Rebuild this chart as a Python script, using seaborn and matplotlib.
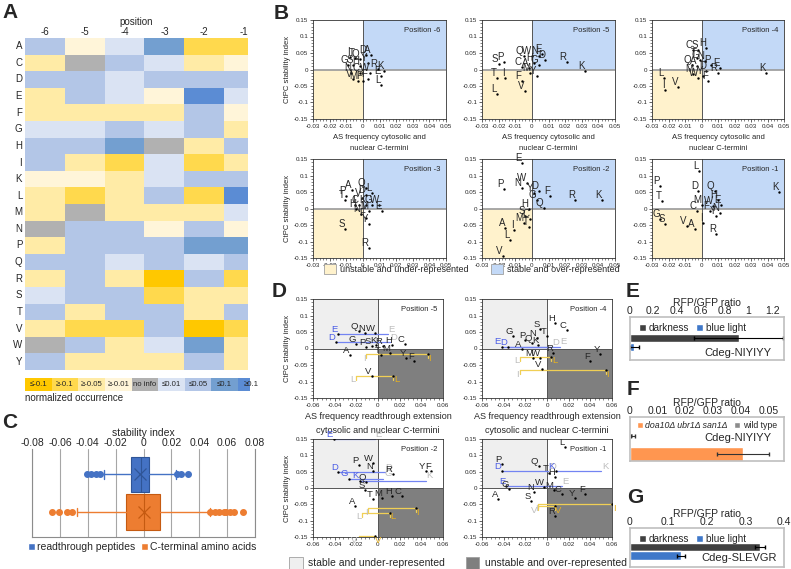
import numpy as np
import pandas as pd
import matplotlib
matplotlib.use('Agg')
import matplotlib.pyplot as plt
import seaborn as sns
from matplotlib.colors import ListedColormap
from matplotlib.patches import Patch, Rectangle
from matplotlib.ticker import MultipleLocator, FuncFormatter

sns.set_style('white')
plt.rcParams['font.family'] = ['Liberation Sans', 'DejaVu Sans']
plt.rcParams['axes.linewidth'] = 0.6

# ---------------- data: panel A (class levels per cell) ----------------
# -4: <=-0.1, -3: >=-0.1, -2: >=-0.05, -1: >=-0.01, 0: no info,
#  1: <=0.01, 2: <=0.05, 3: <=0.1, 4: >=0.1
heat_rows = list("ACDEFGHIKLMNPQRSTVWY")
heat_cols = ["-6", "-5", "-4", "-3", "-2", "-1"]
col_m6 = [2, -2, 2, -2, -2, 1, 2, 2, -1, -2, -2, 0, -2, 2, -2, 1, 2, -2, 0, 2]
col_m5 = [-1, 0, 2, 2, -2, 1, 2, -2, -1, -3, 0, 2, 2, 2, 2, 2, -2, -3, 2, -2]
col_m4 = [1, 2, 1, 1, -2, 2, 3, -3, -2, -2, -2, 2, 2, 1, -2, 2, 2, -3, -2, -2]
col_m3 = [3, 1, 2, -1, -2, 1, 0, 1, 1, 2, -2, -1, 2, 2, -4, -3, 2, 2, 1, -2]
col_m2 = [-3, -2, 2, 4, 2, 2, -2, -3, 2, -3, -2, 2, 3, 1, 2, -2, -2, -4, 3, 2]
col_m1 = [-3, -1, 2, 1, -1, -2, 2, -2, 2, 4, 1, -1, 3, 2, -3, -2, 2, -3, -2, -2]
legend_labels_A = ["≤-0.1", "≥-0.1", "≥-0.05", "≥-0.01", "no info", "≤0.01", "≤0.05", "≤0.1", "≥0.1"]
heat_colors = ['#FFC800', '#FFD94D', '#FFEBA6', '#FFF5D9', '#B1B1B1',
               '#DAE3F3', '#B3C6E7', '#739FD0', '#5B8CD4']

# ---------------- data: panel B ----------------
b_m6_let = list("ITQDAGSHYNCWREKLVMPF")
b_m6_x = [-0.008, -0.005, -0.002, 0.002, 0.005, -0.009, -0.006, -0.002, 0.003, -0.007,
          -0.002, 0.004, 0.009, 0.011, 0.013, 0.011, -0.006, -0.003, 0.000, 0.003]
b_m6_y = [0.038, 0.035, 0.032, 0.045, 0.045, 0.015, 0.015, 0.010, 0.020, -0.010,
          -0.010, -0.010, 0.002, -0.020, -0.005, -0.048, -0.030, -0.035, -0.035, -0.030]
b_m5_let = list("SPCQWNEDHGAMYRKTIFLV")
b_m5_x = [-0.020, -0.017, -0.006, -0.005, 0.000, 0.004, 0.006, 0.008, 0.001, 0.004,
          -0.002, -0.001, 0.003, 0.021, 0.032, -0.021, -0.016, -0.006, -0.021, -0.004]
b_m5_y = [0.018, 0.022, 0.008, 0.040, 0.040, 0.042, 0.048, 0.030, 0.020, 0.015,
          0.005, -0.010, -0.020, 0.022, -0.005, -0.025, -0.025, -0.035, -0.075, -0.065]
b_m4_let = list("HCSTGNPEQADRMWYFKLVI")
b_m4_x = [0.003, -0.005, -0.002, -0.003, -0.001, 0.002, 0.006, 0.011, -0.006, -0.003,
          0.003, 0.010, -0.005, -0.002, 0.001, 0.004, 0.039, -0.023, -0.014, -0.022]
b_m4_y = [0.065, 0.060, 0.060, 0.035, 0.030, 0.025, 0.015, 0.005, 0.015, 0.010,
          -0.005, -0.012, -0.015, -0.025, -0.020, -0.035, -0.010, -0.025, -0.052, -0.062]
b_m3_let = list("APTQLDVICKGWEHMNFYSR")
b_m3_x = [-0.0065, -0.010, -0.0105, 0.0016, 0.0057, 0.0016, -0.0004, -0.0045, -0.0024, 0.0016,
          0.0057, 0.0097, 0.0117, -0.004, 0.0036, -0.0014, 0.0016, 0.0036, -0.0105, 0.0036]
b_m3_y = [0.057, 0.037, 0.027, 0.062, 0.047, 0.042, 0.032, 0.012, 0.012, 0.012,
          0.012, 0.012, -0.008, -0.003, -0.008, -0.018, -0.028, -0.048, -0.063, -0.119]
b_m2_let = list("EWNPYDFGRKQHSCMTAILV")
b_m2_x = [-0.006, -0.003, -0.006, -0.017, 0.001, 0.004, 0.011, 0.003, 0.026, 0.042,
          0.007, -0.002, -0.004, -0.001, -0.005, -0.002, -0.016, -0.011, -0.013, -0.0175]
b_m2_y = [0.137, 0.077, 0.062, 0.058, 0.047, 0.052, 0.037, 0.027, 0.027, 0.027,
          0.002, -0.003, -0.023, -0.033, -0.043, -0.055, -0.058, -0.065, -0.094, -0.144]
b_m1_let = list("LPTDQKHMWECFNYIGSVAR")
b_m1_x = [-0.0016, -0.025, -0.024, -0.002, 0.008, 0.047, 0.010, 0.000, 0.007, 0.012,
          -0.003, 0.005, 0.011, 0.009, 0.001, -0.025, -0.022, -0.009, -0.004, 0.009]
b_m1_y = [0.113, 0.067, 0.024, 0.052, 0.052, 0.049, 0.027, 0.012, 0.007, 0.012,
          -0.008, -0.008, -0.013, -0.023, -0.043, -0.033, -0.048, -0.053, -0.063, -0.078]

# ---------------- data: panel C ----------------
rt_box = dict(q1=-0.0089, med=-0.0017, q3=0.0043, whislo=-0.0286, whishi=0.023, mean=-0.0024)
rt_fliers = [-0.0408, -0.0377, -0.0341, -0.031, 0.0242, 0.0271, 0.0319]
ct_box = dict(q1=-0.0125, med=0.0, q3=0.012, whislo=-0.048, whishi=0.0475, mean=0.0)
ct_fliers = [-0.066, -0.0604, -0.055, -0.0516, 0.048, 0.051, 0.054, 0.058, 0.0595, 0.062, 0.065, 0.0715]

# ---------------- data: panel D ----------------
d_m5_let = list("QNWGPSKRHCATMYFV")
d_m5_x = [-0.018, -0.012, -0.003, -0.020, -0.011, -0.006, -0.0015, 0.0045, 0.013, 0.025,
          -0.026, 0.003, 0.011, 0.026, 0.0335, -0.006]
d_m5_y = [0.052, 0.047, 0.047, 0.015, 0.005, 0.009, 0.012, 0.009, 0.012, 0.015,
          -0.021, -0.021, -0.015, -0.028, -0.038, -0.082]
d_m5_shift_let = ["E", "D", "I", "L"]
d_m5_shift_from = [0.009, 0.011, -0.011, -0.020]
d_m5_shift_to = [-0.037, -0.039, 0.046, 0.014]
d_m5_shift_y = [0.044, 0.019, -0.018, -0.082]
d_m5_shift_kind = ["blue", "blue", "gold", "gold"]

d_m4_let = list("HCSTNPGQKAMWRYFV")
d_m4_x = [0.0074, 0.018, -0.0065, 0.000, -0.0095, -0.020, -0.031, -0.014, -0.008, -0.023,
          -0.0127, -0.0065, 0.0058, 0.049, 0.040, -0.005]
d_m4_y = [0.078, 0.055, 0.058, 0.037, 0.032, 0.027, 0.037, 0.017, 0.012, -0.003,
          -0.028, -0.028, -0.013, -0.018, -0.038, -0.062]
d_m4_shift_let = ["E", "D", "L", "I"]
d_m4_shift_from = [0.012, 0.004, -0.025, -0.025]
d_m4_shift_to = [-0.042, -0.036, 0.004, 0.054]
d_m4_shift_y = [0.006, 0.004, -0.025, -0.065]
d_m4_shift_kind = ["blue", "blue", "gold", "gold"]

d_m2_let = list("WPNRYFQSTMHCA")
d_m2_x = [-0.0046, -0.018, -0.0046, 0.0137, 0.044, 0.049, -0.011, -0.012, -0.005, 0.004,
          0.013, 0.022, -0.021]
d_m2_y = [0.078, 0.071, 0.051, 0.044, 0.051, 0.051, 0.017, -0.005, -0.033, -0.030,
          -0.023, -0.023, -0.054]
d_m2_shift_let = ["E", "D", "G", "K", "I", "L", "V"]
d_m2_shift_from = [-0.003, 0.006, 0.005, 0.044, -0.009, -0.015, -0.018]
d_m2_shift_to = [-0.041, -0.0366, -0.027, -0.017, 0.035, 0.011, -0.003]
d_m2_shift_y = [0.149, 0.049, 0.028, 0.022, -0.061, -0.076, -0.147]
d_m2_shift_kind = ["blue", "blue", "blue", "blue", "gold", "gold", "gold"]

d_m1_let = list("LPQTHWMCNYFSRGA")
d_m1_x = [0.0167, -0.042, -0.0076, 0.0015, 0.0076, -0.003, 0.006, 0.0136, -0.012, 0.026,
          0.035, -0.015, 0.0076, -0.035, -0.045]
d_m1_y = [0.125, 0.075, 0.066, 0.047, 0.033, 0.003, -0.007, -0.017, -0.012, -0.032,
          -0.017, -0.041, -0.086, -0.002, -0.035]
d_m1_shift_let = ["D", "K", "E", "I", "V"]
d_m1_shift_from = [0.001, 0.050, 0.0136, -0.008, -0.008]
d_m1_shift_to = [-0.042, 0.008, -0.038, 0.060, 0.007]
d_m1_shift_y = [0.051, 0.051, 0.005, -0.050, -0.055]
d_m1_shift_kind = ["blue", "blue", "blue", "gold", "gold"]

# ---------------- data: panels E, F, G ----------------
e_labels = ["darkness", "blue light"]
e_values = [0.918, 0.042]
e_err = [0.375, 0.034]
f_labels = ["wild type", "doa10Δ ubr1Δ san1Δ"]
f_values = [0.0012, 0.0407]
f_err = [0.0008, 0.0093]
g_labels = ["darkness", "blue light"]
g_values = [0.337, 0.134]
g_err = [0.013, 0.010]

# ======================================================================
W, H = 791, 569
fig = plt.figure(figsize=(W / 100, H / 100), dpi=100)


def add_ax(x0, y0, x1, y1):
    return fig.add_axes([x0 / W, 1 - y1 / H, (x1 - x0) / W, (y1 - y0) / H])


def fmt(v, p):
    s = '%g' % round(v, 4)
    return '0' if s in ('-0', '0') else s


def panel_label(ch, x, y):
    fig.text(x / W, 1 - y / H, ch, fontsize=15, fontweight='bold', va='baseline', ha='left')


# ---------------- Panel A ----------------
heat_df = pd.DataFrame({c: v for c, v in zip(heat_cols, [col_m6, col_m5, col_m4, col_m3, col_m2, col_m1])},
                       index=heat_rows)
axA = add_ax(25, 38, 248, 370)
sns.heatmap(heat_df, cmap=ListedColormap(heat_colors), vmin=-4.5, vmax=4.5, cbar=False,
            ax=axA, linewidths=0)
axA.set_xlim(0, 5.6)
axA.xaxis.tick_top()
axA.xaxis.set_label_position('top')
axA.set_xlabel('position', fontsize=7, labelpad=1)
axA.set_ylabel('')
axA.tick_params(length=0, labelsize=7, pad=2)
axA.tick_params(axis='x', pad=1)
plt.setp(axA.get_yticklabels(), rotation=0)
plt.setp(axA.get_xticklabels(), rotation=0)

axAl = add_ax(25, 378, 250, 391)
axAl.set_xlim(0, 8.45)
axAl.set_ylim(0, 1)
axAl.axis('off')
for i, (lab, col) in enumerate(zip(legend_labels_A, heat_colors)):
    axAl.add_patch(Rectangle((i, 0), 1, 1, color=col, lw=0))
    axAl.text(i + 0.5, 0.48, lab, ha='center', va='center', fontsize=5.6)
fig.text(25 / W, 1 - 398 / H, 'normalized occurrence', fontsize=7, va='center')
panel_label('A', 2, 18)

# ---------------- Panel B ----------------
YEL = '#FFF2CC'
BLU = '#C3D9F7'


def style_sc(ax, xticks, xminor):
    ax.set_xticks(xticks)
    ax.set_yticks([-0.15, -0.1, -0.05, 0, 0.05, 0.1, 0.15])
    ax.xaxis.set_minor_locator(MultipleLocator(xminor))
    ax.yaxis.set_minor_locator(MultipleLocator(0.01))
    ax.xaxis.set_major_formatter(FuncFormatter(fmt))
    ax.yaxis.set_major_formatter(FuncFormatter(fmt))
    ax.tick_params(which='major', length=2.5, width=0.5, labelsize=4.5, pad=1,
                   bottom=True, left=True, direction='out')
    ax.tick_params(which='minor', length=1.3, width=0.4, bottom=True, left=True, direction='out')
    for s in ax.spines.values():
        s.set_color('#333333')
        s.set_linewidth(0.6)


def draw_b(ax, let, xs, ys, pos, ylab, xlab):
    ax.set_xlim(-0.03, 0.05)
    ax.set_ylim(-0.15, 0.15)
    ax.fill_between([-0.03, 0], [-0.15, -0.15], [0, 0], color=YEL, lw=0, zorder=0)
    ax.fill_between([0, 0.05], [0, 0], [0.15, 0.15], color=BLU, lw=0, zorder=0)
    ax.axhline(0, color='#9A9A9A', lw=1.2, zorder=1)
    ax.axvline(0, color='#555555', lw=0.7, zorder=1)
    sns.scatterplot(x=xs, y=ys, ax=ax, s=3, color='black', linewidth=0, zorder=3)
    for l, x, y in zip(let, xs, ys):
        ax.annotate(l, (x, y), xytext=(-0.2, 0.0), textcoords='offset points',
                    ha='right', va='bottom', fontsize=7, zorder=4)
    ax.text(0.96, 0.93, 'Position ' + pos, transform=ax.transAxes, ha='right', va='top', fontsize=5.5)
    style_sc(ax, [-0.03, -0.02, -0.01, 0, 0.01, 0.02, 0.03, 0.04, 0.05], 0.002)
    if ylab:
        ax.set_ylabel('CtPC stability index', fontsize=5.5, labelpad=2)
    if xlab:
        ax.set_xlabel('AS frequency cytosolic and\nnuclear C-termini', fontsize=5.5, labelpad=4,
                      linespacing=1.8)


bcols = [(313, 446), (482, 615), (652, 784)]
brows = [(20, 119), (159, 258)]
bdata = [(b_m6_let, b_m6_x, b_m6_y, '-6'), (b_m5_let, b_m5_x, b_m5_y, '-5'),
         (b_m4_let, b_m4_x, b_m4_y, '-4'), (b_m3_let, b_m3_x, b_m3_y, '-3'),
         (b_m2_let, b_m2_x, b_m2_y, '-2'), (b_m1_let, b_m1_x, b_m1_y, '-1')]
for i, (let, xs, ys, pos) in enumerate(bdata):
    r, c = divmod(i, 3)
    ax = add_ax(bcols[c][0], brows[r][0], bcols[c][1], brows[r][1])
    draw_b(ax, let, xs, ys, pos, c == 0, r == 0)

fig.legend([Patch(facecolor=YEL, edgecolor='#A0A0A0', lw=0.6), Patch(facecolor=BLU, edgecolor='#A0A0A0', lw=0.6)],
           ['unstable and under-represented', 'stable and over-represented'],
           loc='center', bbox_to_anchor=(472 / W, 1 - 269 / H), ncol=2, frameon=False, fontsize=6.5,
           handlelength=1.3, handleheight=1.3, handletextpad=0.5, columnspacing=2.5)
panel_label('B', 274, 19)

# ---------------- Panel C ----------------
axC = add_ax(32, 449, 255, 537)
BLUE_C = '#4472C4'
ORANGE_C = '#ED7D31'
stats = []
for b, fl, lab in [(rt_box, rt_fliers, 'rt'), (ct_box, ct_fliers, 'ct')]:
    d = dict(b)
    d['fliers'] = fl
    d['label'] = lab
    stats.append(d)
try:
    bp = axC.bxp(stats, positions=[0, 1], widths=0.95, orientation='horizontal', patch_artist=True,
                 showmeans=True, capwidths=0.22)
except TypeError:
    bp = axC.bxp(stats, positions=[0, 1], widths=0.95, vert=False, patch_artist=True,
                 showmeans=True)
for i, col in enumerate([BLUE_C, ORANGE_C]):
    edge = '#2F5597' if i == 0 else '#C55A11'
    bp['boxes'][i].set(facecolor=col, edgecolor=edge, lw=0.8)
    bp['medians'][i].set(color=edge, lw=0.8)
    for w in bp['whiskers'][2 * i:2 * i + 2]:
        w.set(color=col, lw=1.0)
    for cp in bp['caps'][2 * i:2 * i + 2]:
        cp.set(color=col, lw=1.0)
    bp['fliers'][i].set(marker='o', markerfacecolor=col, markeredgecolor=col, markersize=4)
    bp['means'][i].set(marker='x', markeredgecolor=edge, markersize=8, markeredgewidth=0.9)
axC.set_xlim(-0.08, 0.08)
axC.set_ylim(1.67, -0.68)
axC.set_xticks(np.round(np.arange(-0.08, 0.081, 0.02), 2))
axC.xaxis.set_major_formatter(FuncFormatter(fmt))
axC.xaxis.tick_top()
axC.xaxis.set_label_position('top')
axC.set_xlabel('stability index', fontsize=7.5, labelpad=1)
axC.tick_params(axis='x', length=0, labelsize=7.5, pad=1)
axC.set_yticks([])
axC.grid(axis='x', color='#A6A6A6', lw=0.8)
axC.set_axisbelow(True)
axC.spines['top'].set_visible(False)
for s in ['left', 'right', 'bottom']:
    axC.spines[s].set_color('#8C8C8C')
    axC.spines[s].set_linewidth(0.8)
fig.legend([Patch(facecolor=BLUE_C), Patch(facecolor=ORANGE_C)],
           ['readthrough peptides', 'C-terminal amino acids'],
           loc='center', bbox_to_anchor=(142 / W, 1 - 547 / H), ncol=2, frameon=False, fontsize=7.5,
           handlelength=0.7, handleheight=0.7, handletextpad=0.15, columnspacing=0.6)
panel_label('C', 2, 428)

# ---------------- Panel D ----------------
LGRAY = '#EFEFEF'
DGRAY = '#7F7F7F'
BLUE_T = '#4A5CE6'
BLUE_L = '#7384F2'
GOLD_T = '#E5B020'
GOLD_L = '#F0CF55'


def draw_d(ax, let, xs, ys, s_let, s_from, s_to, s_y, s_kind, pos, ylab, xlab):
    ax.set_xlim(-0.06, 0.06)
    ax.set_ylim(-0.15, 0.15)
    ax.fill_between([-0.06, 0], [0, 0], [0.15, 0.15], color=LGRAY, lw=0, zorder=0)
    ax.fill_between([0, 0.06], [-0.15, -0.15], [0, 0], color=DGRAY, lw=0, zorder=0)
    ax.axhline(0, color='#555555', lw=0.7, zorder=1)
    ax.axvline(0, color='#555555', lw=0.7, zorder=1)
    for l, xg, xc, y, k in zip(s_let, s_from, s_to, s_y, s_kind):
        tc = BLUE_T if k == 'blue' else GOLD_T
        lc = BLUE_L if k == 'blue' else GOLD_L
        ax.plot([xg, xc], [y, y], color=lc, lw=0.9, zorder=2)
        if k == 'gold':
            for xe in (xg, xc):
                ax.plot([xe, xe], [y, y - 0.012], color=lc, lw=0.9, zorder=2)
        left = xc < xg
        ax.annotate(l, (xc, y), xytext=(-0.5 if left else 0.5, 0.3), textcoords='offset points',
                    ha='right' if left else 'left', va='bottom' if k == 'blue' else 'top',
                    color=tc, fontsize=6.8, zorder=4)
        ax.annotate(l, (xg, y), xytext=(0.5 if left else -0.5, 0.3), textcoords='offset points',
                    ha='left' if left else 'right', va='bottom' if k == 'blue' else 'top',
                    color='#BDBDBD', fontsize=6.8, zorder=4)
    sns.scatterplot(x=list(xs) + list(s_to), y=list(ys) + list(s_y), ax=ax, s=3, color='black',
                    linewidth=0, zorder=3)
    for l, x, y in zip(let, xs, ys):
        ax.annotate(l, (x, y), xytext=(-0.2, 0.0), textcoords='offset points',
                    ha='right', va='bottom', fontsize=6.8, zorder=4)
    ax.text(0.96, 0.93, 'Position ' + pos, transform=ax.transAxes, ha='right', va='top', fontsize=5.5)
    style_sc(ax, [-0.06, -0.04, -0.02, 0, 0.02, 0.04, 0.06], 0.004)
    if ylab:
        ax.set_ylabel('CtPC stability index', fontsize=5.5, labelpad=2)
    if xlab:
        ax.set_xlabel('AS frequency readthrough extension\ncytosolic and nuclear C-termini',
                      fontsize=6.5, labelpad=3, linespacing=1.7)


dcols = [(313, 443), (482, 612)]
drows = [(299, 398), (439, 537)]
ddata = [(d_m5_let, d_m5_x, d_m5_y, d_m5_shift_let, d_m5_shift_from, d_m5_shift_to, d_m5_shift_y, d_m5_shift_kind, '-5'),
         (d_m4_let, d_m4_x, d_m4_y, d_m4_shift_let, d_m4_shift_from, d_m4_shift_to, d_m4_shift_y, d_m4_shift_kind, '-4'),
         (d_m2_let, d_m2_x, d_m2_y, d_m2_shift_let, d_m2_shift_from, d_m2_shift_to, d_m2_shift_y, d_m2_shift_kind, '-2'),
         (d_m1_let, d_m1_x, d_m1_y, d_m1_shift_let, d_m1_shift_from, d_m1_shift_to, d_m1_shift_y, d_m1_shift_kind, '-1')]
for i, dd in enumerate(ddata):
    r, c = divmod(i, 2)
    ax = add_ax(dcols[c][0], drows[r][0], dcols[c][1], drows[r][1])
    draw_d(ax, *dd, ylab=(c == 0), xlab=(r == 0))

fig.legend([Patch(facecolor=LGRAY, edgecolor='#A0A0A0', lw=0.6), Patch(facecolor=DGRAY, edgecolor='#A0A0A0', lw=0.6)],
           ['stable and under-represented', 'unstable and over-represented'],
           loc='center', bbox_to_anchor=(458 / W, 1 - 563 / H), ncol=2, frameon=False, fontsize=7.5,
           handlelength=1.3, handleheight=1.3, handletextpad=0.5, columnspacing=2.0)
panel_label('D', 272, 297)


# ---------------- Panels E, F, G ----------------
def style_bar(ax, xmax, xticks, title):
    ax.set_xlim(0, xmax)
    ax.set_xticks(xticks)
    ax.xaxis.set_major_formatter(FuncFormatter(fmt))
    ax.xaxis.tick_top()
    ax.xaxis.set_label_position('top')
    ax.set_xlabel(title, fontsize=7.5, labelpad=0.5)
    ax.tick_params(axis='x', length=0, labelsize=7.5, pad=0.5)
    ax.set_yticks([])
    ax.set_ylabel('')
    for s in ax.spines.values():
        s.set_color('#BFBFBF')
        s.set_linewidth(1.2)


# E
axE = add_ax(629.5, 317, 784, 360)
sns.barplot(x=e_values, y=e_labels, hue=e_labels, palette=['#404040', '#3F78C9'], orient='h',
            ax=axE, legend=False, width=0.95, saturation=1)
axE.errorbar(e_values, [0, 1], xerr=e_err, fmt='none', ecolor='black', elinewidth=0.8, capsize=1.5)
axE.set_ylim(2.44, -2.33)
style_bar(axE, 1.3, [0, 0.2, 0.4, 0.6, 0.8, 1, 1.2], 'RFP/GFP ratio')
axE.legend([Patch(facecolor='#404040'), Patch(facecolor='#3F78C9')], e_labels, loc='upper left',
           bbox_to_anchor=(0.0, 1.06), ncol=2, frameon=False, fontsize=7.2, handlelength=0.7,
           handleheight=0.7, handletextpad=0.3, columnspacing=0.7)
axE.text(0.70, 0.17, 'Cdeg-NIYIYY', transform=axE.transAxes, ha='center', va='center', fontsize=8)
panel_label('E', 626, 297)

# F
axF = add_ax(629.5, 417, 784, 461)
sns.barplot(x=f_values, y=f_labels, hue=f_labels, palette=['#8C8C8C', '#FF9650'], orient='h',
            ax=axF, legend=False, width=0.77, saturation=1)
for p in axF.patches:
    if abs(p.get_y() + p.get_height() / 2) < 0.5:
        p.set_height(0.28)
        p.set_y(-0.14)
axF.errorbar(f_values, [0, 1], xerr=f_err, fmt='none', ecolor='#333333', elinewidth=0.8, capsize=1.5)
axF.set_ylim(1.40, -1.02)
style_bar(axF, 0.0555, [0, 0.01, 0.02, 0.03, 0.04, 0.05], 'RFP/GFP ratio')
legF = axF.legend([Patch(facecolor='#FF9650'), Patch(facecolor='#8C8C8C')], [f_labels[1], f_labels[0]],
                  loc='upper center', bbox_to_anchor=(0.5, 1.08), ncol=2, frameon=False, fontsize=6.3,
                  handlelength=0.7, handleheight=0.7, handletextpad=0.3, columnspacing=0.7)
for t in legF.get_texts():
    if 'doa10' in t.get_text():
        t.set_fontstyle('italic')
axF.text(0.70, 0.52, 'Cdeg-NIYIYY', transform=axF.transAxes, ha='center', va='center', fontsize=8)
panel_label('F', 627, 395)

# G
axG = add_ax(629.5, 528, 784, 567)
sns.barplot(x=g_values, y=g_labels, hue=g_labels, palette=['#404040', '#3F78C9'], orient='h',
            ax=axG, legend=False, width=0.95, saturation=1)
axG.errorbar(g_values, [0, 1], xerr=g_err, fmt='none', ecolor='black', elinewidth=0.8, capsize=1.5)
axG.set_ylim(2.35, -2.24)
style_bar(axG, 0.4, [0, 0.1, 0.2, 0.3, 0.4], 'RFP/GFP ratio')
axG.legend([Patch(facecolor='#404040'), Patch(facecolor='#3F78C9')], g_labels, loc='upper left',
           bbox_to_anchor=(0.0, 1.08), ncol=2, frameon=False, fontsize=7.2, handlelength=0.7,
           handleheight=0.7, handletextpad=0.3, columnspacing=0.7)
axG.text(0.71, 0.22, 'Cdeg-SLEVGR', transform=axG.transAxes, ha='center', va='center', fontsize=8)
panel_label('G', 627, 503)

fig.savefig('out.png', dpi=100)
